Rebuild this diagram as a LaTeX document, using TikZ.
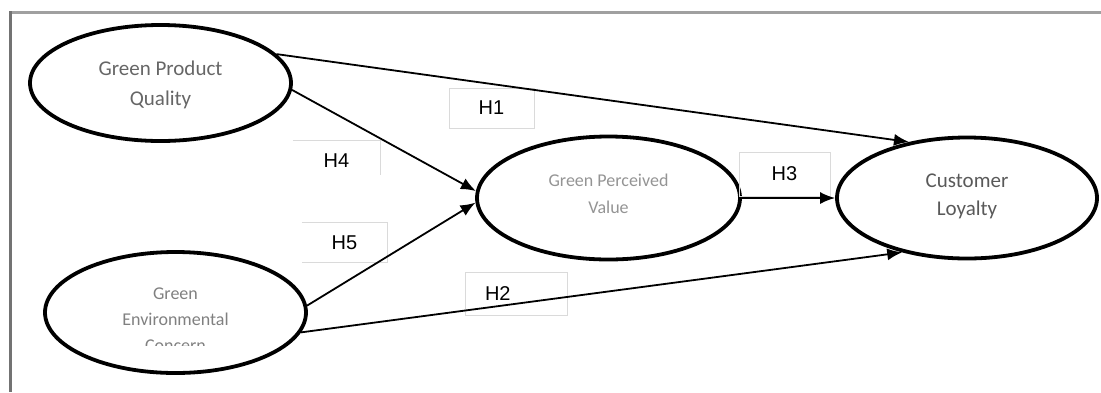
\documentclass[tikz,border=0pt]{standalone}
\usepackage{fontspec}
\usetikzlibrary{shapes.geometric,arrows.meta}
\newfontfamily\calib{Carlito}
\newfontfamily\arialf{Liberation Sans}
\definecolor{framegray}{HTML}{A0A0A0}
\definecolor{boxgray}{HTML}{DADADA}
\tikzset{
  latent/.style={draw, ellipse, line width=3.8pt, inner sep=0pt},
  arr/.style={line width=1.8pt, -{Latex[length=15pt,width=12pt]}},
  hyp/.style={draw=boxgray, line width=1pt, inner sep=0pt, font=\arialf\fontsize{20}{24}\selectfont},
  hypnb/.style={inner sep=0pt, font=\arialf\fontsize{20}{24}\selectfont},
  ltext/.style={align=center, inner sep=0pt}
}
\begin{document}
\begin{tikzpicture}[x=1pt,y=-1pt]
\useasboundingbox (0,0) rectangle (1101,392);
% frame
\draw[framegray, line width=3pt] (10,12) -- (1101,12);
\draw[gray!90!black, line width=2.5pt] (10.5,11) -- (10.5,392);

% latent variables
\node[latent, minimum width=261pt, minimum height=116pt] (gpq) at (160.5,83) {};
\node[latent, minimum width=261pt, minimum height=121pt] (gec) at (175.5,312.5) {};
\node[latent, minimum width=263pt, minimum height=123pt] (gpv) at (608.5,198) {};
\node[latent, minimum width=260pt, minimum height=121pt] (cl) at (967,198) {};

% texts
\node[ltext, text=black!60, font=\calib\fontsize{21}{30}\selectfont] (gpqt) at (160.5,85) {Green Product\\Quality};
\node[ltext, text=black!42, font=\calib\fontsize{18}{27}\selectfont] (gpvt) at (608.5,194) {Green Perceived\\Value};
\node[ltext, text=black!65, font=\calib\fontsize{21}{28}\selectfont] (clt) at (967,196) {Customer\\Loyalty};
\begin{scope}
\clip (40,250) rectangle (310,345);
\node[ltext, text=black!50, font=\calib\fontsize{18}{26}\selectfont] (gect) at (175.5,319.7) {Green\\Environmental\\Concern};
\end{scope}

% hypothesis boxes
\node[hyp, minimum width=85pt, minimum height=40pt] (h1) at (491.5,108) {H1};
\node[hyp, minimum width=102pt, minimum height=43pt, text width=62pt, align=left] (h2) at (516,293.5) {H2};
\node[hyp, minimum width=91pt, minimum height=44pt] (h3) at (784.5,174) {H3};
\begin{scope}
\clip (280,130) rectangle (400,167);
\node[hypnb, minimum width=87pt, minimum height=39pt] (h4) at (336.5,160.5) {H4};
\end{scope}
\draw[boxgray, line width=1pt] (h4.north west) -- (h4.north east) -- ([yshift=5pt]h4.south east);
\begin{scope}
\clip (290,215) rectangle (400,249);
\node[hypnb, minimum width=85pt, minimum height=39pt] (h5) at (344.5,242.5) {H5};
\end{scope}
\draw[boxgray, line width=1pt] (h5.north west) -- (h5.north east) -- (h5.south east) -- (h5.south west);

% paths
\draw[arr] (gpq.14) -- (cl.136);
\draw[arr] (gpq.-3) -- (gpv.177);
\draw[arr] (gec.3) -- (gpv.182);
\draw[arr] (gec.-9) -- (cl.220);
\draw[arr] (gpv.east) -- (cl.west);
\end{tikzpicture}
\end{document}
